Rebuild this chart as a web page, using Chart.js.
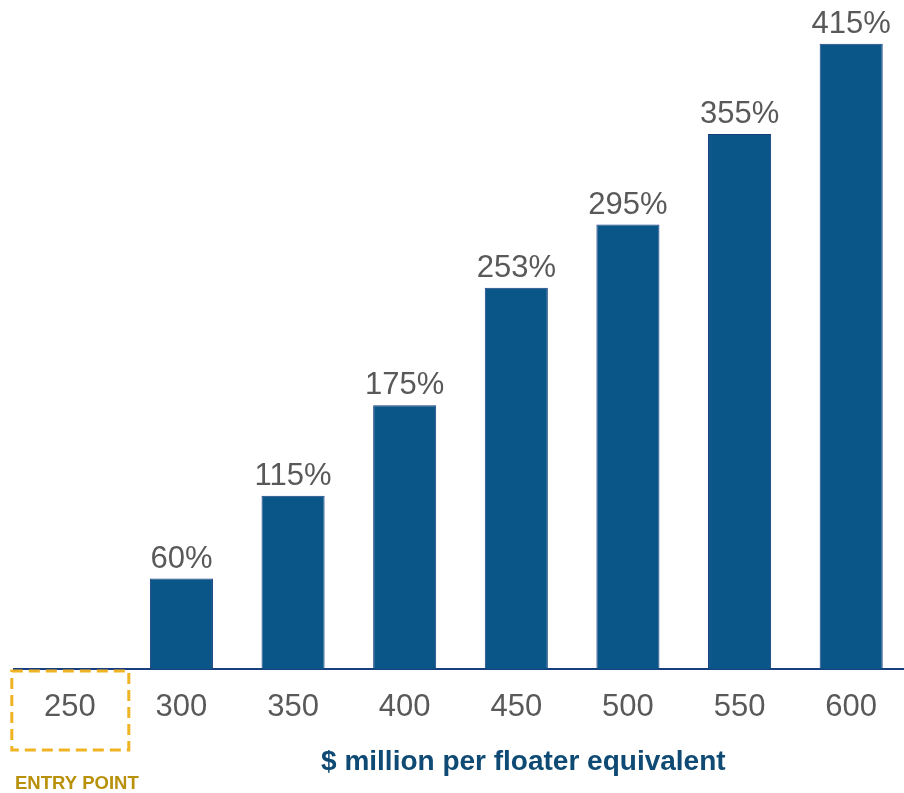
<!DOCTYPE html>
<html>
<head>
<meta charset="utf-8">
<script src="https://cdn.jsdelivr.net/npm/chart.js@4"></script>
<style>
  html, body { margin: 0; padding: 0; background: #fff; overflow: hidden; }
  #wrap { width: 908px; height: 793px; }
</style>
</head>
<body>
<div id="wrap"><canvas id="chart"></canvas></div>
<script>
const categories = ['250', '300', '350', '400', '450', '500', '550', '600'];
const upside = [0, 60, 115, 175, 253, 295, 355, 415];
const axisTitle = '$ million per floater equivalent';
const entryLabel = 'ENTRY POINT';

const FONT = '"Liberation Sans", Arial, sans-serif';

// percentage labels above each bar
const valueLabels = {
    id: 'valueLabels',
    afterDatasetsDraw(chart) {
        const ctx = chart.ctx;
        const meta = chart.getDatasetMeta(0);
        ctx.save();
        ctx.font = '31px ' + FONT;
        ctx.fillStyle = '#595959';
        ctx.textAlign = 'center';
        ctx.textBaseline = 'alphabetic';
        meta.data.forEach((bar, i) => {
            if (upside[i] === 0) return;
            ctx.fillText(upside[i] + '%', bar.x, bar.y - 11);
        });
        ctx.restore();
    }
};

// dashed box round the entry category, plus the axis title
const extras = {
    id: 'extras',
    afterDraw(chart) {
        const ctx = chart.ctx;
        const x = chart.scales.x;
        const area = chart.chartArea;
        const cx = x.getPixelForValue(0);
        ctx.save();
        ctx.strokeStyle = '#f0b323';
        ctx.lineWidth = 3;
        ctx.setLineDash([11, 6]);
        ctx.strokeRect(cx - 58, area.bottom + 2, 117, 79);
        ctx.setLineDash([]);

        ctx.font = 'bold 18.5px ' + FONT;
        ctx.fillStyle = '#b8900a';
        ctx.textAlign = 'left';
        ctx.textBaseline = 'alphabetic';
        ctx.fillText(entryLabel, 15, 789);

        ctx.font = 'bold 28px ' + FONT;
        ctx.fillStyle = '#0e4a74';
        ctx.textAlign = 'center';
        ctx.fillText(axisTitle, x.getPixelForValue(4) + 7, 770);
        ctx.restore();
    }
};

new Chart(document.getElementById('chart'), {
    type: 'bar',
    data: {
        labels: categories,
        datasets: [{
            data: upside,
            backgroundColor: '#0b5689',
            borderColor: '#173f7e',
            borderWidth: 1,
            categoryPercentage: 1,
            barPercentage: 0.565
        }]
    },
    options: {
        responsive: true,
        maintainAspectRatio: false,
        animation: false,
        layout: { padding: { left: 14, right: 1, top: 0, bottom: 0 } },
        scales: {
            x: {
                grid: { display: false },
                border: { display: true, color: '#173f7e', width: 2 },
                ticks: {
                    color: '#595959',
                    font: { family: FONT, size: 31 },
                    padding: 12
                },
                afterFit(scale) { scale.height = 124; }
            },
            y: {
                display: false,
                min: 0,
                max: 444
            }
        },
        plugins: {
            legend: { display: false },
            tooltip: { enabled: false }
        }
    },
    plugins: [valueLabels, extras]
});
</script>
</body>
</html>
